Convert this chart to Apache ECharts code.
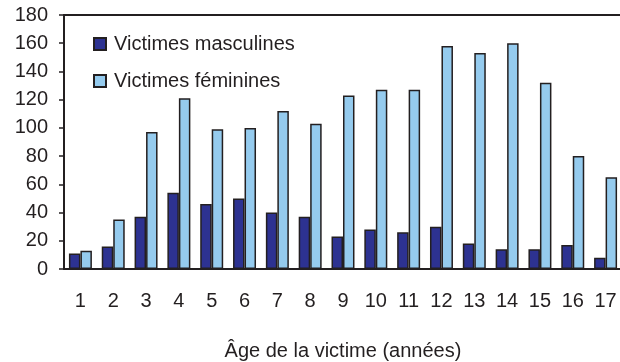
<!DOCTYPE html>
<html>
<head>
<meta charset="utf-8">
<script src="https://cdn.jsdelivr.net/npm/echarts@6/dist/echarts.min.js"></script>
<style>
  html, body { margin: 0; padding: 0; background: #fff; }
  #chart { width: 620px; height: 362px; }
</style>
</head>
<body>
<div id="chart"></div>
<script>
// Victims by age, boys vs girls
const ages = ['1','2','3','4','5','6','7','8','9','10','11','12','13','14','15','16','17'];
const male = [11, 16, 37, 54, 46, 50, 40, 37, 23, 28, 26, 30, 18, 14, 14, 17, 8];
const female = [13, 35, 97, 121, 99, 100, 112, 103, 123, 127, 127, 158, 153, 160, 132, 80, 65];
const yTicks = [0, 20, 40, 60, 80, 100, 120, 140, 160, 180];

const ink = '#231f20';
const font = "'Liberation Sans', Arial, sans-serif";

const chart = echarts.init(document.getElementById('chart'));
chart.setOption({
  animation: false,
  textStyle: { fontFamily: font, color: ink },
  grid: { left: 64, top: 15, bottom: 93, right: -2, outerBoundsMode: 'none', containLabel: false },
  legend: {
    orient: 'vertical',
    left: 93, top: 34,
    padding: 0,
    itemWidth: 12, itemHeight: 12, itemGap: 17,
    icon: 'rect',
    textStyle: { fontFamily: font, fontSize: 20, color: ink, padding: [0, 0, 0, 3] },
    data: ['Victimes masculines', 'Victimes féminines']
  },
  xAxis: [{
    type: 'category',
    data: ages,
    axisLine: { lineStyle: { color: ink, width: 2 } },
    axisTick: { show: false },
    axisLabel: { fontFamily: font, fontSize: 20, color: ink, margin: 22 },
    name: 'Âge de la victime (années)',
    nameLocation: 'middle',
    nameGap: 72,
    nameTextStyle: { fontFamily: font, fontSize: 20, color: ink }
  }, {
    type: 'category',
    position: 'top',
    data: ages,
    axisLine: { show: true, lineStyle: { color: ink, width: 2 } },
    axisTick: { show: false },
    axisLabel: { show: false }
  }],
  yAxis: {
    type: 'value',
    min: yTicks[0], max: yTicks[yTicks.length - 1], interval: 20,
    axisLine: { show: true, lineStyle: { color: ink, width: 2 } },
    axisTick: { show: true, length: 5, lineStyle: { color: ink, width: 1.5 } },
    splitLine: { show: false },
    axisLabel: { fontFamily: font, fontSize: 20, color: ink, margin: 16 }
  },
  series: [{
    name: 'Victimes masculines',
    type: 'bar',
    data: male,
    barWidth: '35%',
    barGap: '0%',
    itemStyle: { color: '#2d3291', borderColor: ink, borderWidth: 1.5 }
  }, {
    name: 'Victimes féminines',
    type: 'bar',
    data: female,
    barWidth: '35%',
    barGap: '0%',
    itemStyle: { color: '#95cbee', borderColor: ink, borderWidth: 1.5 }
  }]
});
</script>
</body>
</html>
